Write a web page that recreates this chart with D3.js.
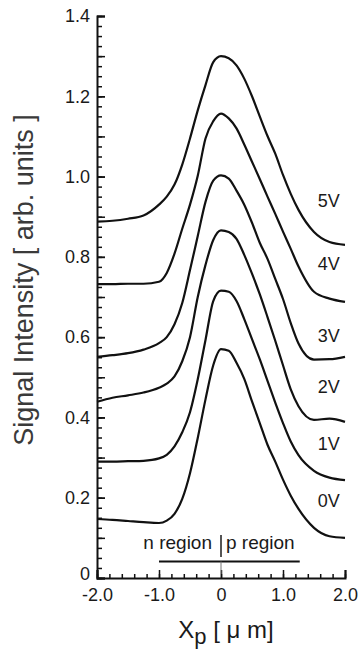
<!DOCTYPE html>
<html>
<head>
<meta charset="utf-8">
<script src="https://cdn.jsdelivr.net/npm/d3@7"></script>
<style>
body { margin: 0; background: #fff; }
svg { display: block; font-family: "Liberation Sans", Arial, Helvetica, sans-serif; }
</style>
</head>
<body>
<div id="container"></div>
<script>
// position along the junction, um
var xs = [-2.0, -1.75, -1.5, -1.25, -1.0, -0.875, -0.75, -0.625, -0.5, -0.375, -0.25, -0.125,
          0, 0.125, 0.25, 0.375, 0.5, 0.625, 0.75, 0.875, 1.0, 1.125, 1.25, 1.5, 1.75, 2.0];

// signal intensity for each bias voltage
var v0 = [0.147, 0.145, 0.142, 0.139, 0.137, 0.143, 0.160, 0.197, 0.261, 0.349, 0.445, 0.530,
          0.570, 0.566, 0.536, 0.496, 0.440, 0.386, 0.332, 0.290, 0.245, 0.205, 0.172, 0.125, 0.104, 0.100];
var v1 = [0.290, 0.290, 0.291, 0.292, 0.298, 0.307, 0.328, 0.363, 0.413, 0.495, 0.593, 0.690,
          0.716, 0.713, 0.690, 0.645, 0.595, 0.545, 0.491, 0.437, 0.386, 0.340, 0.306, 0.267, 0.250, 0.244];
var v2 = [0.439, 0.449, 0.455, 0.462, 0.474, 0.484, 0.502, 0.540, 0.600, 0.700, 0.780, 0.842,
          0.866, 0.862, 0.845, 0.805, 0.758, 0.707, 0.650, 0.591, 0.530, 0.470, 0.428, 0.394, 0.397, 0.389];
var v3 = [0.551, 0.555, 0.560, 0.569, 0.585, 0.600, 0.632, 0.685, 0.767, 0.852, 0.937, 0.990,
          1.003, 0.995, 0.965, 0.930, 0.885, 0.835, 0.795, 0.745, 0.695, 0.635, 0.584, 0.544, 0.545, 0.551];
var v4 = [0.732, 0.732, 0.733, 0.733, 0.738, 0.760, 0.808, 0.870, 0.930, 1.002, 1.095, 1.138,
          1.157, 1.145, 1.120, 1.080, 1.037, 0.994, 0.950, 0.907, 0.863, 0.820, 0.776, 0.713, 0.696, 0.688];
var v5 = [0.888, 0.890, 0.895, 0.903, 0.930, 0.950, 0.980, 1.030, 1.095, 1.165, 1.228, 1.285,
          1.300, 1.295, 1.277, 1.244, 1.200, 1.150, 1.101, 1.057, 1.004, 0.957, 0.917, 0.862, 0.837, 0.830];

var voltages = ["0V", "1V", "2V", "3V", "4V", "5V"];
var labelY = [0.194, 0.336, 0.477, 0.605, 0.784, 0.940];

var xTicks = [-2, -1, 0, 1, 2];
var xTickLabels = ["-2.0", "-1.0", "0", "1.0", "2.0"];
var yTicks = [0, 0.2, 0.4, 0.6, 0.8, 1.0, 1.2, 1.4];
var yTickLabels = ["0", "0.2", "0.4", "0.6", "0.8", "1.0", "1.2", "1.4"];

var series = [v0, v1, v2, v3, v4, v5];

var margin = {top: 16, right: 15, bottom: 77, left: 97},
    width = 360 - margin.left - margin.right,
    height = 655 - margin.top - margin.bottom;

var svg = d3.select("#container")
  .append("svg")
    .attr("width", width + margin.left + margin.right)
    .attr("height", height + margin.top + margin.bottom)
  .append("g")
    .attr("transform", "translate(" + margin.left + "," + margin.top + ")");

var x = d3.scaleLinear().domain([-2, 2]).range([0, width]);
var y = d3.scaleLinear().domain([0, 1.4]).range([height, 0]);

// minor ticks first, then the labelled axes on top
svg.append("g")
    .attr("class", "minor")
    .call(d3.axisLeft(y).tickValues(d3.range(0, 1.4001, 0.025)).tickSize(-5).tickFormat(""));
svg.append("g")
    .attr("class", "minor")
    .call(d3.axisLeft(y).tickValues(d3.range(0, 1.4001, 0.1)).tickSize(-8).tickFormat(""));
svg.append("g")
    .attr("class", "minor")
    .attr("transform", "translate(0," + height + ")")
    .call(d3.axisBottom(x).tickValues(d3.range(-2, 2.001, 0.2)).tickSize(-4).tickFormat(""));

var yAxis = svg.append("g")
    .call(d3.axisLeft(y).tickValues(yTicks).tickSize(-8).tickPadding(7)
      .tickFormat(function(d, i) { return yTickLabels[i]; }));

var xAxis = svg.append("g")
    .attr("transform", "translate(0," + height + ")")
    .call(d3.axisBottom(x).tickValues(xTicks).tickSize(-8).tickPadding(10)
      .tickFormat(function(d, i) { return xTickLabels[i]; }));

svg.selectAll(".minor .domain").remove();
svg.selectAll(".tick line").attr("stroke", "#111").attr("stroke-width", 1.5);
svg.selectAll(".domain").attr("stroke", "#111").attr("stroke-width", 2);
svg.selectAll(".tick text").attr("font-size", 18).attr("fill", "#1a1a1a")
    .attr("font-family", "'Liberation Sans', Arial, sans-serif");
// lift the "0" a little so it clears "-2.0" below it
yAxis.selectAll(".tick text").filter(function(d) { return d === 0; }).attr("dy", "0.1em");

// curves
var line = d3.line()
    .x(function(d, i) { return x(xs[i]); })
    .y(function(d) { return y(d); })
    .curve(d3.curveMonotoneX);

svg.selectAll(".curve")
    .data(series)
  .enter().append("path")
    .attr("class", "curve")
    .attr("d", line)
    .attr("fill", "none")
    .attr("stroke", "#111")
    .attr("stroke-width", 2.2)
    .attr("stroke-linejoin", "round");

svg.selectAll(".vlabel")
    .data(voltages)
  .enter().append("text")
    .attr("class", "vlabel")
    .attr("x", x(1.74))
    .attr("y", function(d, i) { return y(labelY[i]); })
    .attr("dy", "0.36em")
    .attr("text-anchor", "middle")
    .attr("font-size", 18)
    .attr("fill", "#1a1a1a")
    .text(function(d) { return d; });

// n / p region annotation
var ann = svg.append("g");
ann.append("text")
    .attr("x", x(0) - 9)
    .attr("y", height - 29)
    .attr("text-anchor", "end")
    .attr("font-size", 19)
    .attr("fill", "#1a1a1a")
    .text("n region");
ann.append("text")
    .attr("x", x(0) + 5)
    .attr("y", height - 29)
    .attr("text-anchor", "start")
    .attr("font-size", 19)
    .attr("fill", "#1a1a1a")
    .text("p region");
ann.append("line")
    .attr("x1", x(0)).attr("x2", x(0))
    .attr("y1", height - 43).attr("y2", height - 21)
    .attr("stroke", "#555").attr("stroke-width", 2);
ann.append("line")
    .attr("x1", x(-1.0)).attr("x2", x(1.27))
    .attr("y1", height - 16.5).attr("y2", height - 16.5)
    .attr("stroke", "#111").attr("stroke-width", 2);
ann.append("line")
    .attr("x1", x(0)).attr("x2", x(0))
    .attr("y1", height - 16.5).attr("y2", height - 4)
    .attr("stroke", "#777").attr("stroke-width", 1);

// axis titles
svg.append("text")
    .attr("transform", "rotate(-90)")
    .attr("x", -(280 - margin.top))
    .attr("y", 33 - margin.left)
    .attr("text-anchor", "middle")
    .attr("font-size", 27)
    .attr("fill", "#3a3a3a")
    .text("Signal Intensity [ arb. units ]");

var xt = svg.append("text")
    .attr("x", 226 - margin.left)
    .attr("y", 638 - margin.top)
    .attr("text-anchor", "middle")
    .attr("font-size", 24)
    .attr("fill", "#1a1a1a");
xt.append("tspan").text("X");
xt.append("tspan").attr("font-size", 22).attr("dy", 6).text("p");
xt.append("tspan").attr("dy", -6).text(" [ \u03bc m]");
</script>
</body>
</html>
